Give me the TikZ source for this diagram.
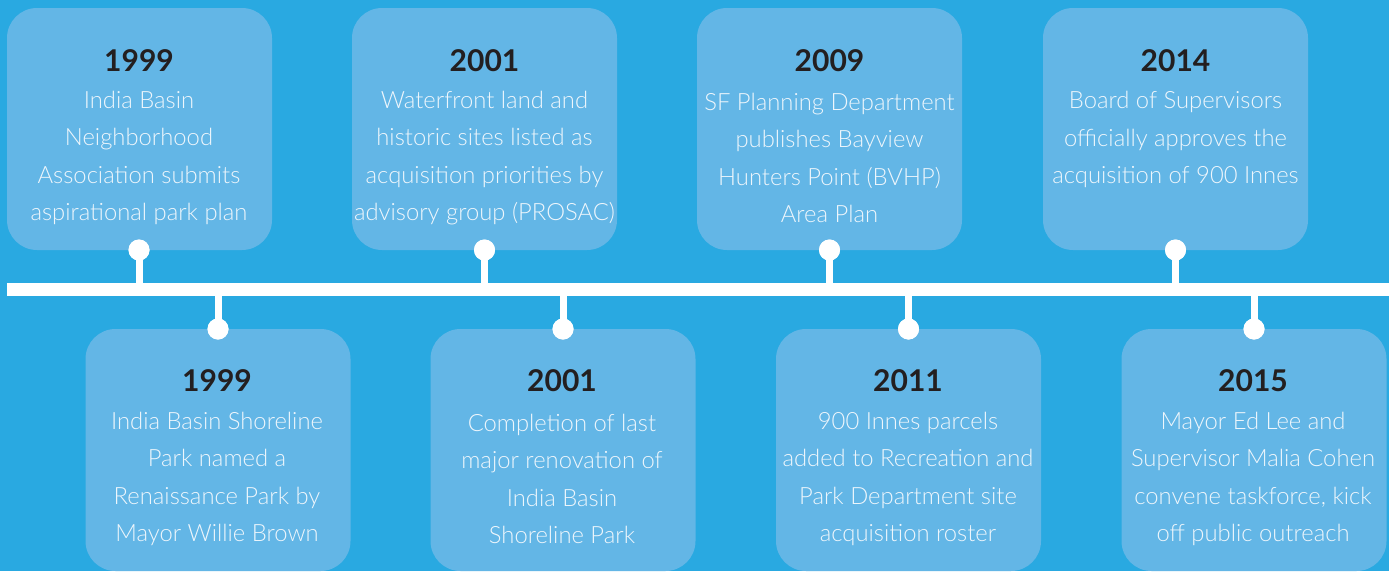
\documentclass[tikz,border=0pt]{standalone}
\usepackage{fontspec}
\setmainfont{Lato}[UprightFont={* Light},BoldFont={* Bold}]
\definecolor{bgblue}{HTML}{29A9E1}
\definecolor{boxblue}{HTML}{63B6E6}
\definecolor{yeardark}{HTML}{231F20}
\definecolor{bodywhite}{HTML}{EEF6FC}
\tikzset{
  evbox/.style={fill=boxblue,draw=none,rounded corners=30pt,minimum width=265pt,minimum height=242pt,inner sep=0pt},
  yearlbl/.style={text=yeardark,font=\fontsize{30}{34}\selectfont\bfseries,inner sep=0pt},
  bodylbl/.style={text=bodywhite,font=\fontsize{23.8}{37.5}\selectfont,align=center,inner sep=0pt},
  dot/.style={circle,fill=white,minimum size=21pt,inner sep=0pt},
  stem/.style={white,line width=7pt},
  tline/.style={white,line width=13pt}
}
\begin{document}
\begin{tikzpicture}[x=1pt,y=-1pt]
\fill[bgblue] (0,0) rectangle (1389,571);
\useasboundingbox (0,0) rectangle (1389,571);
% timeline
\coordinate (tl0) at (7,289.5);
\coordinate (tl1) at (1389,289.5);
\draw[tline] (tl0) -- (tl1);
% top boxes
\node[evbox] (b1) at (139.5,129) {};
\node[evbox] (b2) at (484.5,129) {};
\node[evbox] (b3) at (829.5,129) {};
\node[evbox] (b4) at (1175.5,129) {};
% bottom boxes
\node[evbox] (c1) at (218,450) {};
\node[evbox] (c2) at (563,450) {};
\node[evbox] (c3) at (908.5,450) {};
\node[evbox] (c4) at (1254,450) {};
% top dots and stems
\foreach \b/\x in {b1/139,b2/484.5,b3/829.5,b4/1175.5}{
  \node[dot] (\b d) at (\x,250) {};
  \coordinate (\b t) at (\x,289.5);
  \draw[stem] (\b d.center) -- (\b t);
  \node[dot] at (\b d) {};
}
\foreach \b/\x in {c1/218,c2/563,c3/908.5,c4/1254}{
  \node[dot] (\b d) at (\x,329) {};
  \coordinate (\b t) at (\x,289.5);
  \draw[stem] (\b d.center) -- (\b t);
  \node[dot] at (\b d) {};
}
% texts top
\node[yearlbl] (y1) at (139,61) {1999};
\node[bodylbl] (t1) at (139,158) {India Basin\\Neighborhood\\Association submits\\aspirational park plan};
\node[yearlbl] (y2) at (484.5,61) {2001};
\node[bodylbl] (t2) at (484.5,158) {Waterfront land and\\historic sites listed as\\acquisition priorities by\\advisory group (PROSAC)};
\node[yearlbl] (y3) at (829.5,61) {2009};
\node[bodylbl] (t3) at (829.5,158) {SF Planning Department\\publishes Bayview\\Hunters Point (BVHP)\\Area Plan};
\node[yearlbl] (y4) at (1175.5,61) {2014};
\node[bodylbl] (t4) at (1175.5,139.5) {Board of Supervisors\\officially approves the\\acquisition of 900 Innes};
% texts bottom
\node[yearlbl] (y5) at (217,381) {1999};
\node[bodylbl] (t5) at (217,479) {India Basin Shoreline\\Park named a\\Renaissance Park by\\Mayor Willie Brown};
\node[yearlbl] (y6) at (562,381) {2001};
\node[bodylbl] (t6) at (562,479) {Completion of last\\major renovation of\\India Basin\\Shoreline Park};
\node[yearlbl] (y7) at (908,381) {2011};
\node[bodylbl] (t7) at (908,479) {900 Innes parcels\\added to Recreation and\\Park Department site\\acquisition roster};
\node[yearlbl] (y8) at (1253,381) {2015};
\node[bodylbl] (t8) at (1253,479) {Mayor Ed Lee and\\Supervisor Malia Cohen\\convene taskforce, kick\\off public outreach};
\end{tikzpicture}
\end{document}
